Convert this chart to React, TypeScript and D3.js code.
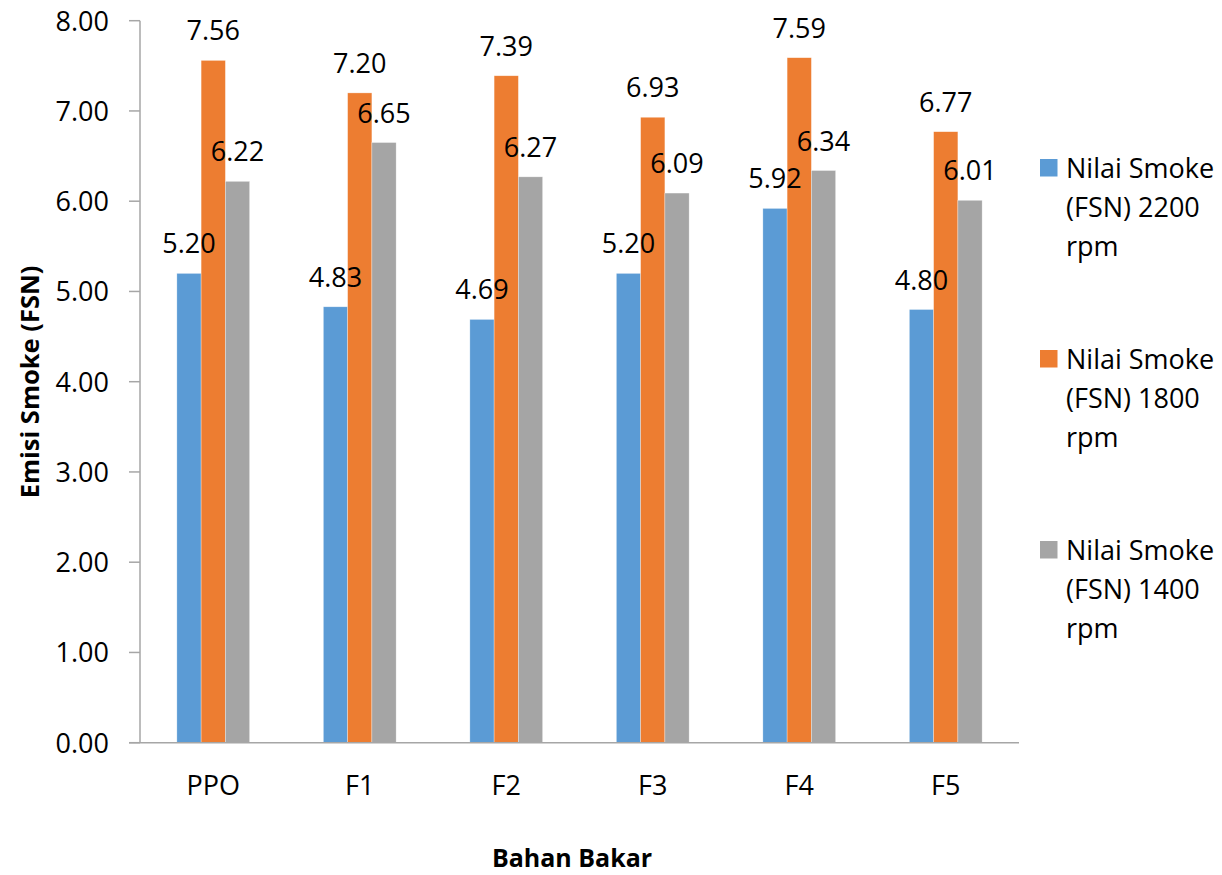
import React from "react";
import * as d3 from "d3";

// Fuel samples along the x axis
const categories = ["PPO", "F1", "F2", "F3", "F4", "F5"];

// Smoke opacity (FSN) per engine speed
const smoke2200 = [5.2, 4.83, 4.69, 5.2, 5.92, 4.8];
const smoke1800 = [7.56, 7.2, 7.39, 6.93, 7.59, 6.77];
const smoke1400 = [6.22, 6.65, 6.27, 6.09, 6.34, 6.01];

const seriesNames = [
  ["Nilai Smoke", "(FSN) 2200", "rpm"],
  ["Nilai Smoke", "(FSN) 1800", "rpm"],
  ["Nilai Smoke", "(FSN) 1400", "rpm"],
];
const seriesColors = ["#5B9BD5", "#ED7D31", "#A5A5A5"];
const yTicks = [0, 1, 2, 3, 4, 5, 6, 7, 8];

const WIDTH = 1222;
const HEIGHT = 875;
const FONT = "'Open Sans', 'DejaVu Sans', sans-serif";

export default function App() {
  const plot = { left: 140, right: 1019, top: 20.7, bottom: 742.7 };
  const series = [smoke2200, smoke1800, smoke1400];

  const x = d3
    .scaleBand<string>()
    .domain(categories)
    .range([plot.left, plot.right])
    .paddingInner(0)
    .paddingOuter(0);
  const band = x.bandwidth();
  const barW = band / 6.04;
  const groupW = barW * series.length;

  const y = d3.scaleLinear().domain([0, 8]).range([plot.bottom, plot.top]);
  const fmt = d3.format(".2f");
  const axisColor = "#A6A6A6";

  return (
    <svg
      width={WIDTH}
      height={HEIGHT}
      style={{ position: "absolute", left: 0, top: 0, background: "#fff" }}
      fontFamily={FONT}
    >
      {/* y axis with ticks and labels */}
      <line x1={plot.left} x2={plot.left} y1={plot.top} y2={plot.bottom} stroke={axisColor} strokeWidth={1.5} />
      {yTicks.map((t) => (
        <g key={t}>
          <line x1={plot.left - 11} x2={plot.left} y1={y(t)} y2={y(t)} stroke={axisColor} strokeWidth={1.5} />
          <text x={109} y={y(t) + 10} textAnchor="end" fontSize={27} fill="#000">
            {fmt(t)}
          </text>
        </g>
      ))}

      {/* bars */}
      {categories.map((c, i) => {
        const x0 = (x(c) as number) + band / 2 - groupW / 2;
        return (
          <g key={c}>
            {series.map((s, j) => (
              <rect
                key={j}
                x={x0 + j * barW}
                y={y(s[i])}
                width={barW}
                height={y(0) - y(s[i])}
                fill={seriesColors[j]}
                stroke="#ffffff"
                strokeOpacity={0.5}
                strokeWidth={0.6}
              />
            ))}
          </g>
        );
      })}

      {/* x axis baseline */}
      <line x1={plot.left - 11} x2={plot.right} y1={plot.bottom} y2={plot.bottom} stroke={axisColor} strokeWidth={1.5} />

      {/* value labels */}
      {categories.map((c, i) => {
        const x0 = (x(c) as number) + band / 2 - groupW / 2;
        return (
          <g key={c + "-lbl"}>
            {series.map((s, j) => (
              <text
                key={j}
                x={x0 + j * barW + barW / 2}
                y={y(s[i]) - 20}
                textAnchor="middle"
                fontSize={27}
                fill="#000"
              >
                {fmt(s[i])}
              </text>
            ))}
          </g>
        );
      })}

      {/* category labels */}
      {categories.map((c) => (
        <text key={c + "-cat"} x={(x(c) as number) + band / 2} y={795} textAnchor="middle" fontSize={27} fill="#000">
          {c}
        </text>
      ))}

      {/* axis titles */}
      <text x={572} y={867} textAnchor="middle" fontSize={25} fontWeight="bold" fill="#000">
        Bahan Bakar
      </text>
      <text
        transform={`translate(39, 382) rotate(-90)`}
        textAnchor="middle"
        fontSize={25.5}
        fontWeight="bold"
        fill="#000"
      >
        Emisi Smoke (FSN)
      </text>

      {/* legend */}
      {seriesNames.map((lines, j) => {
        const base = 178 + j * 191;
        return (
          <g key={"leg" + j}>
            <rect x={1040} y={base - 19} width={17.5} height={17.5} fill={seriesColors[j]} />
            {lines.map((ln, k) => (
              <text key={k} x={1066} y={base + k * 39} fontSize={27} fill="#000">
                {ln}
              </text>
            ))}
          </g>
        );
      })}
    </svg>
  );
}
